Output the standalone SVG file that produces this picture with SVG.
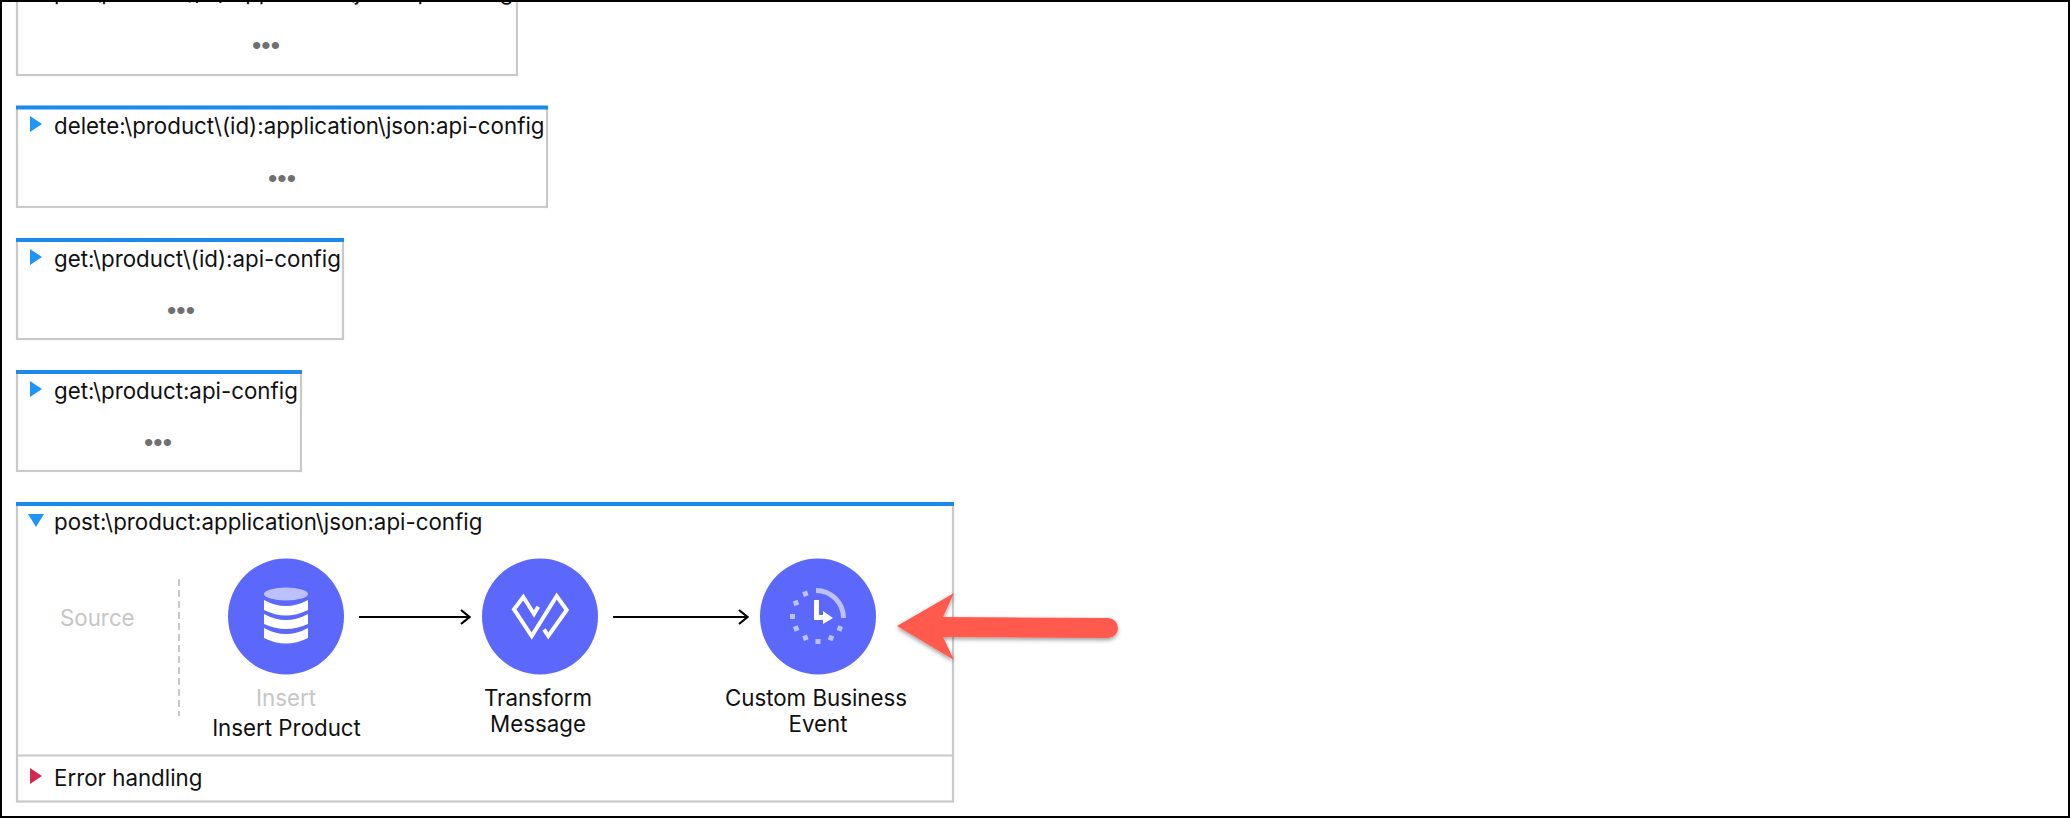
<svg xmlns="http://www.w3.org/2000/svg" width="2070" height="818" viewBox="0 0 2070 818">
<defs>
<style>
.box{fill:#fff;stroke:#c9c9c9;stroke-width:2.2}
.bar{fill:#1b8ae8}
.t{font-family:"Inter","Liberation Sans",sans-serif;font-size:22.3px;fill:#111}
.c{text-anchor:middle}
.g{fill:#c6c6c6}
.dots{font-family:"Liberation Sans",sans-serif;font-size:26.5px;fill:#707070;text-anchor:middle}
.blue{fill:#1d96f8}
.node{fill:#5c67fb}
.edge{fill:none;stroke:#000;stroke-width:2.2}
.lite{fill:#bcc1fd}
</style>
<marker id="ah" viewBox="0 0 12 16" refX="11" refY="8" markerWidth="12" markerHeight="16" markerUnits="userSpaceOnUse" orient="auto"><path d="M2 1 L10.5 8 L2 15" fill="none" stroke="#000" stroke-width="2.2"/></marker>
<filter id="sh" x="-10%" y="-20%" width="120%" height="150%"><feDropShadow dx="0" dy="2" stdDeviation="2" flood-color="#000" flood-opacity=".4"/></filter>
</defs>
<rect width="2070" height="818" fill="#fff"/>
<g id="flow-put">
<rect class="box" x="17" y="-20" width="500" height="95"/>
<text class="t" x="54" y="0">put:\product\(id):application\json:api-config</text>
<text class="dots" x="266" y="54">•••</text>
</g>
<g id="flow-delete">
<rect class="box" x="17" y="107" width="530" height="100"/>
<rect class="bar" x="16" y="105.500" width="532" height="4"/>
<path class="blue" d="M30 116 L42 124 L30 132Z"/>
<text class="t" x="54" y="134">delete:\product\(id):application\json:api-config</text>
<text class="dots" x="282" y="187">•••</text>
</g>
<g id="flow-get-id">
<rect class="box" x="17" y="239" width="326" height="100"/>
<rect class="bar" x="16" y="238" width="328" height="4"/>
<path class="blue" d="M30 249 L42 257 L30 265Z"/>
<text class="t" x="54" y="267">get:\product\(id):api-config</text>
<text class="dots" x="181" y="319">•••</text>
</g>
<g id="flow-get">
<rect class="box" x="17" y="371" width="284" height="100"/>
<rect class="bar" x="16" y="370" width="286" height="4"/>
<path class="blue" d="M30 381 L42 389 L30 397Z"/>
<text class="t" x="54" y="399">get:\product:api-config</text>
<text class="dots" x="158" y="451">•••</text>
</g>
<g id="flow-post">
<rect class="box" x="17" y="503" width="936" height="298.500"/>
<rect class="bar" x="16" y="502" width="938" height="4"/>
<path class="blue" d="M28 514 L44 514 L36 527Z"/>
<text class="t" x="54" y="530">post:\product:application\json:api-config</text>
<line x1="17" y1="755.500" x2="953" y2="755.500" stroke="#c9c9c9" stroke-width="2.2"/>
<path d="M30 768 L42 776 L30 784Z" fill="#d6284f"/>
<text class="t" x="54" y="786">Error handling</text>
</g>
<g id="source">
<text class="t g" x="60" y="626">Source</text>
<line x1="179" y1="579" x2="179" y2="716" stroke="#c9c9c9" stroke-width="2" stroke-dasharray="7 4"/>
</g>
<g id="connectors">
<line class="edge" x1="359" y1="617" x2="470" y2="617" marker-end="url(#ah)"/>
<line class="edge" x1="613" y1="617" x2="748" y2="617" marker-end="url(#ah)"/>
</g>
<g id="node-insert">
<circle class="node" cx="286" cy="616.500" r="58"/>
<ellipse class="lite" cx="286" cy="594" rx="22" ry="6.5"/>
<path fill="#fff" d="M264 600 Q286 612 308 600 V610 Q286 621 264 610Z M264 614 Q286 626 308 614 V624 Q286 634 264 624Z M264 628 Q286 640 308 628 V638 Q286 649 264 638Z"/>
<text class="t g c" x="286" y="706">Insert</text>
<text class="t c" x="286.500" y="736">Insert Product</text>
</g>
<g id="node-transform">
<circle class="node" cx="540" cy="616.500" r="58"/>
<path fill="none" stroke="#fff" stroke-width="4" d="M538.3 606.7 L534 614 L523.3 597 L514 609.3 L531.7 636 L556.7 596 L566.7 610 L548.3 636 L544 629.3"/>
<text class="t c" x="538" y="706">Transform</text>
<text class="t c" x="538" y="732">Message</text>
</g>
<g id="node-custom">
<circle class="node" cx="818" cy="616.500" r="58"/>
<path fill="none" stroke="#bcc1fd" stroke-width="5" d="M816 590.500 A27.500 27.500 0 0 1 843.500 618"/>
<g class="lite">
<rect x="803" y="591.500" width="5" height="5" transform="rotate(-20 805 594)"/>
<rect x="793.500" y="600.500" width="5" height="5" transform="rotate(-20 796 603)"/>
<rect x="790" y="614" width="5" height="5"/>
<rect x="793.500" y="626" width="5" height="5" transform="rotate(-20 796 628)"/>
<rect x="803" y="635.500" width="5" height="5" transform="rotate(-20 805 638)"/>
<rect x="815.500" y="639" width="5" height="5"/>
<rect x="828.500" y="635.500" width="5" height="5" transform="rotate(20 831 638)"/>
<rect x="837.500" y="626" width="5" height="5" transform="rotate(20 840 628)"/>
</g>
<path fill="#fff" d="M814 600 H819 V615 H823 V611 L833 618 L823 624 V620 H814Z"/>
<text class="t c" x="816" y="706">Custom Business</text>
<text class="t c" x="818" y="732">Event</text>
</g>
<g id="callout-arrow">
<path filter="url(#sh)" fill="#ff5a4e" d="M897 626 L954 593 L943 617 L1108 618 A10 10 0 0 1 1108 638 L943 637 L954 660Z"/>
</g>
<rect x="1" y="1" width="2068" height="816" fill="none" stroke="#000" stroke-width="2"/>
</svg>
